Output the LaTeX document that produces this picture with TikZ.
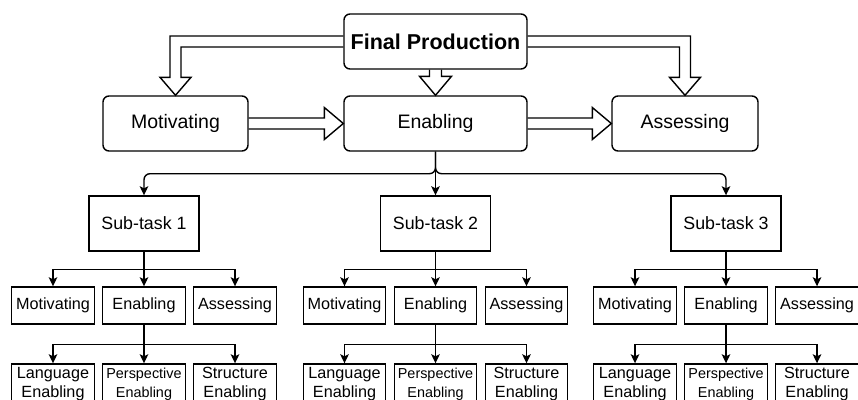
\documentclass[tikz,border=0pt]{standalone}
\usepackage{fontspec}
\setmainfont{Liberation Sans}
\usetikzlibrary{calc,arrows.meta}
\begin{document}
\begin{tikzpicture}[x=1pt,y=-1pt, line width=1.4pt,
  topbox/.style={draw, rounded corners=6pt, minimum height=55pt, inner sep=0pt, font=\fontsize{19.5}{23}\selectfont},
  subbox/.style={draw, minimum width=110pt, minimum height=55pt, inner sep=0pt, font=\fontsize{17.8}{21}\selectfont},
  leafbox/.style={draw, minimum width=82.5pt, minimum height=37pt, inner sep=0pt, font=\fontsize{16.2}{19}\selectfont},
  botbox/.style={draw, minimum width=82.5pt, minimum height=40pt, inner sep=0pt, align=center, font=\fontsize{16.2}{19}\selectfont},
  perbox/.style={botbox, font=\fontsize{14.4}{19}\selectfont},
  conn/.style={-{Stealth[length=9pt,width=8.5pt,inset=2pt]}},
  hollow/.style={line join=miter}
]
\useasboundingbox (0,0) rectangle (858,399);
\clip (0,0) rectangle (858,399);

% top level
\node[topbox, minimum width=183pt, font=\fontsize{21.5}{25}\selectfont\bfseries] (FP) at (435.5,41.5) {Final Production};
\node[topbox, minimum width=145pt] (Mot) at (175.5,123.5) {Motivating};
\node[topbox, minimum width=183pt] (En) at (435.5,123.5) {Enabling};
\node[topbox, minimum width=146pt] (As) at (685,123.5) {Assessing};

% hollow arrows
\draw[hollow] ($(FP.west)+(0,-5.5)$) -- ($(Mot.north |- FP.west)+(-5.5,-5.5)$) -- ($(Mot.north)+(-5.5,-18)$) -- ($(Mot.north)+(-15.5,-18)$) -- (Mot.north) -- ($(Mot.north)+(15.5,-18)$) -- ($(Mot.north)+(5.5,-18)$) -- ($(Mot.north |- FP.west)+(5.5,5.5)$) -- ($(FP.west)+(0,5.5)$);
\draw[hollow] ($(FP.east)+(0,-5.5)$) -- ($(As.north |- FP.east)+(5.5,-5.5)$) -- ($(As.north)+(5.5,-18)$) -- ($(As.north)+(15.5,-18)$) -- (As.north) -- ($(As.north)+(-15.5,-18)$) -- ($(As.north)+(-5.5,-18)$) -- ($(As.north |- FP.east)+(-5.5,5.5)$) -- ($(FP.east)+(0,5.5)$);
\draw[hollow] ($(FP.south)+(-6,0)$) -- ($(En.north)+(-6,-19)$) -- ($(En.north)+(-16,-19)$) -- (En.north) -- ($(En.north)+(16,-19)$) -- ($(En.north)+(6,-19)$) -- ($(FP.south)+(6,0)$);
\draw[hollow] ($(Mot.east)+(0,-5.5)$) -- ($(En.west)+(-19,-5.5)$) -- ($(En.west)+(-19,-16)$) -- (En.west) -- ($(En.west)+(-19,16)$) -- ($(En.west)+(-19,5.5)$) -- ($(Mot.east)+(0,5.5)$);
\draw[hollow] ($(En.east)+(0,-5.5)$) -- ($(As.west)+(-19,-5.5)$) -- ($(As.west)+(-19,-16)$) -- (As.west) -- ($(As.west)+(-19,16)$) -- ($(As.west)+(-19,5.5)$) -- ($(En.east)+(0,5.5)$);

% sub-tasks
\foreach \i/\c in {1/144,2/435.5,3/726}{
  \node[subbox] (S\i) at (\c,223.5) {Sub-task \i};
  \node[leafbox] (M\i) at (\c-91,305.5) {Motivating};
  \node[leafbox] (E\i) at (\c,305.5) {Enabling};
  \node[leafbox] (A\i) at (\c+91,305.5) {Assessing};
  \node[botbox] (L\i) at (\c-91,384) {Language\\Enabling};
  \node[perbox] (P\i) at (\c,384) {Perspective\\Enabling};
  \node[botbox] (T\i) at (\c+91,384) {Structure\\Enabling};
  \draw[conn] (S\i.south) -- ++(0,18) -| (M\i.north);
  \draw[conn] (S\i.south) -- (E\i.north);
  \draw[conn] (S\i.south) -- ++(0,18) -| (A\i.north);
  \draw[conn] (E\i.south) -- ++(0,20) -| (L\i.north);
  \draw[conn] (E\i.south) -- (P\i.north);
  \draw[conn] (E\i.south) -- ++(0,20) -| (T\i.north);
}

\draw[conn, rounded corners=6pt] (En.south) -- ++(0,22) -| (S1.north);
\draw[conn] (En.south) -- (S2.north);
\draw[conn, rounded corners=6pt] (En.south) -- ++(0,22) -| (S3.north);
\end{tikzpicture}
\end{document}
